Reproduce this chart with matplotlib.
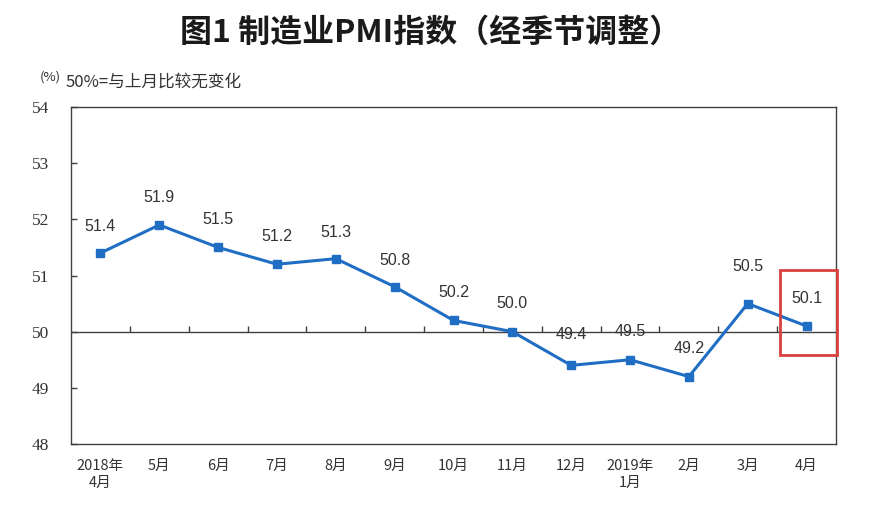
import matplotlib
matplotlib.use("Agg")
import matplotlib.pyplot as plt
from matplotlib.patches import Rectangle

plt.rcParams['font.family'] = ['Noto Sans CJK SC', 'DejaVu Sans']

months = ["2018年\n4月", "5月", "6月", "7月", "8月", "9月", "10月", "11月",
          "12月", "2019年\n1月", "2月", "3月", "4月"]
pmi = [51.4, 51.9, 51.5, 51.2, 51.3, 50.8, 50.2, 50.0, 49.4, 49.5, 49.2, 50.5, 50.1]
label_texts = ["51.4", "51.9", "51.5", "51.2", "51.3", "50.8", "50.2", "50.0",
               "49.4", "49.5", "49.2", "50.5", "50.1"]
label_offsets_pt = [19, 20, 20, 20, 19, 19, 20, 20, 22, 20, 20, 27, 20]
yticks = [48, 49, 50, 51, 52, 53, 54]
baseline = 50

fig = plt.figure(figsize=(8.81, 5.22), dpi=100)
ax = fig.add_axes([71/881, 1-444/522, (836-71)/881, (444-107)/522])

x = list(range(len(pmi)))
line_color = "#1F6EC4"
ax.plot(x, pmi, color=line_color, lw=2.2, marker='s', markersize=6,
        markerfacecolor=line_color, markeredgecolor=line_color, zorder=3)

for xi, v, t, off in zip(x, pmi, label_texts, label_offsets_pt):
    ax.annotate(t, (xi, v), xytext=(0, off), textcoords='offset points',
                ha='center', va='center', fontsize=11.5, color='#333333',
                family='Liberation Sans')

ax.set_xlim(-0.5, len(pmi) - 0.5)
ax.set_ylim(yticks[0], yticks[-1])

# baseline with category-boundary ticks
ax.axhline(baseline, color='#404040', lw=1, zorder=2)
bounds = [i + 0.5 for i in range(len(pmi) - 1)]
ax.plot(bounds, [baseline] * len(bounds), linestyle='none', marker=2,
        markersize=4, color='#404040', markeredgewidth=1, zorder=2)

ax.set_yticks(yticks)
ax.set_yticklabels([str(v) for v in yticks], family='Liberation Serif',
                   fontsize=12.5, color='#333333')
ax.tick_params(axis='y', direction='in', length=4, width=1, color='#404040', pad=22)
ax.set_xticks(x)
ax.set_xticklabels(months, fontsize=10.5, color='#333333', linespacing=1.25)
ax.tick_params(axis='x', length=0, pad=11)
for lab in ax.get_yticklabels():
    lab.set_horizontalalignment('center')

for s in ax.spines.values():
    s.set_color('#404040')
    s.set_linewidth(1)

# red highlight box around the latest value
rect = Rectangle((11.55, 49.58), 0.97, 1.52, fill=False, edgecolor='#D9403F',
                 lw=2, clip_on=False, zorder=4)
ax.add_patch(rect)

fig.text(431/881, 1 - 33/522, "图1 制造业PMI指数（经季节调整）", ha='center', va='center',
         fontsize=23, fontweight='semibold', color='#1a1a1a')
fig.text(40/881, 1 - 77/522, "(%)", ha='left', va='center', fontsize=9.5, color='#333333')
fig.text(66/881, 1 - 82/522, "50%=与上月比较无变化", ha='left', va='center',
         fontsize=12, color='#333333')

fig.savefig("out.png", dpi=100, facecolor='white')
